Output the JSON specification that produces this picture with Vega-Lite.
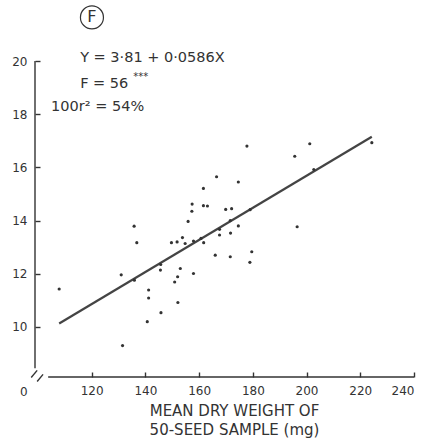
{
  "$schema": "https://vega.github.io/schema/vega-lite/v6.json",
  "autosize": "none",
  "padding": {"left": 35, "top": 61, "right": 19, "bottom": 63},
  "width": 379,
  "height": 316,
  "background": "white",
  "view": {"stroke": null},
  "datasets": {
    "pts": [
      {"x": 107.9, "y": 11.43}, {"x": 131.0, "y": 11.96}, {"x": 131.5, "y": 9.30},
      {"x": 135.8, "y": 13.79}, {"x": 135.9, "y": 11.76}, {"x": 136.8, "y": 13.17},
      {"x": 140.7, "y": 10.20}, {"x": 141.2, "y": 11.39}, {"x": 141.2, "y": 11.09},
      {"x": 145.7, "y": 12.35}, {"x": 145.6, "y": 12.14}, {"x": 145.8, "y": 10.54},
      {"x": 149.7, "y": 13.17}, {"x": 151.8, "y": 13.20}, {"x": 150.9, "y": 11.69},
      {"x": 152.0, "y": 11.89}, {"x": 152.1, "y": 10.92}, {"x": 153.0, "y": 12.20},
      {"x": 153.8, "y": 13.36}, {"x": 154.8, "y": 13.14}, {"x": 155.9, "y": 13.97},
      {"x": 157.4, "y": 14.62}, {"x": 157.3, "y": 14.35}, {"x": 157.9, "y": 13.23},
      {"x": 157.9, "y": 12.01}, {"x": 160.7, "y": 13.33}, {"x": 161.7, "y": 13.17},
      {"x": 161.6, "y": 15.21}, {"x": 161.6, "y": 14.56}, {"x": 163.1, "y": 14.55},
      {"x": 166.0, "y": 12.70}, {"x": 166.5, "y": 15.65}, {"x": 167.6, "y": 13.67},
      {"x": 167.6, "y": 13.46}, {"x": 169.9, "y": 14.42}, {"x": 171.6, "y": 14.00},
      {"x": 171.7, "y": 13.53}, {"x": 171.6, "y": 12.64}, {"x": 172.1, "y": 14.45},
      {"x": 174.6, "y": 15.45}, {"x": 174.6, "y": 13.80}, {"x": 177.8, "y": 16.80},
      {"x": 179.0, "y": 14.41}, {"x": 178.9, "y": 12.43}, {"x": 179.6, "y": 12.83},
      {"x": 195.6, "y": 16.42}, {"x": 196.5, "y": 13.77}, {"x": 201.2, "y": 16.89},
      {"x": 202.7, "y": 15.92}, {"x": 224.3, "y": 16.93}
    ],
    "fit": [{"x": 107.9, "y": 10.13}, {"x": 224.3, "y": 17.15}],
    "axislines": [
      {"x": 98.9, "y": 8.45, "x2": 98.9, "y2": 20},
      {"x": 103.8, "y": 8.12, "x2": 240, "y2": 8.12},
      {"x": 97.5, "y": 8.10, "x2": 99.7, "y2": 8.37},
      {"x": 99.7, "y": 7.95, "x2": 101.9, "y2": 8.22}
    ],
    "notes": [
      {"x": 115.7, "y": 20.1, "label": "Y = 3·81 + 0·0586X", "size": 14.5},
      {"x": 115.7, "y": 19.15, "label": "F = 56", "size": 14.5},
      {"x": 135.5, "y": 19.4, "label": "***", "size": 10},
      {"x": 104.9, "y": 18.28, "label": "100r² = 54%", "size": 14.5},
      {"x": 93.3, "y": 7.55, "label": "0", "size": 12}
    ],
    "panel": [{"x": 120.1, "y": 21.64, "label": "F"}]
  },
  "encoding": {
    "x": {"field": "x", "type": "quantitative", "scale": {"domain": [98.9, 240], "nice": false, "zero": false},
      "axis": {
        "values": [120, 140, 160, 180, 200, 220, 240],
        "domain": false, "grid": false,
        "tickSize": -5, "tickColor": "#333", "tickWidth": 1.4,
        "labelPadding": 13, "labelFont": "DejaVu Sans", "labelFontSize": 12, "labelColor": "#333",
        "title": ["MEAN DRY WEIGHT OF", "50-SEED SAMPLE (mg)"],
        "titleFont": "DejaVu Sans", "titleFontSize": 15, "titleFontWeight": "normal",
        "titleColor": "#333", "titleLineHeight": 19, "titlePadding": 7, "titleX": 199
      }},
    "y": {"field": "y", "type": "quantitative", "scale": {"domain": [8.12, 20], "nice": false, "zero": false},
      "axis": {
        "values": [10, 12, 14, 16, 18, 20],
        "domain": false, "grid": false,
        "tickSize": -5, "tickColor": "#333", "tickWidth": 1.4,
        "labelPadding": 13, "labelFont": "DejaVu Sans", "labelFontSize": 12, "labelColor": "#333",
        "title": null
      }}
  },
  "layer": [
    {
      "data": {"name": "axislines"},
      "mark": {"type": "rule", "color": "#333", "strokeWidth": 1.4, "clip": false},
      "encoding": {
        "x2": {"field": "x2"},
        "y2": {"field": "y2"}
      }
    },
    {
      "data": {"name": "fit"},
      "mark": {"type": "line", "color": "#444", "strokeWidth": 2.2},
      "encoding": {}
    },
    {
      "data": {"name": "pts"},
      "mark": {"type": "point", "filled": true, "size": 10, "color": "#333", "opacity": 1},
      "encoding": {}
    },
    {
      "data": {"name": "notes"},
      "mark": {"type": "text", "align": "left", "baseline": "middle", "font": "DejaVu Sans", "color": "#333", "clip": false},
      "encoding": {
        "text": {"field": "label"},
        "size": {"field": "size", "type": "quantitative", "scale": null, "legend": null}
      }
    },
    {
      "data": {"name": "panel"},
      "mark": {"type": "point", "shape": "circle", "filled": false, "size": 529, "color": "#333", "strokeWidth": 1.2, "opacity": 1, "clip": false},
      "encoding": {}
    },
    {
      "data": {"name": "panel"},
      "mark": {"type": "text", "align": "center", "baseline": "middle", "font": "DejaVu Sans", "fontSize": 16, "color": "#333", "clip": false},
      "encoding": {
        "text": {"field": "label"}
      }
    }
  ]
}
